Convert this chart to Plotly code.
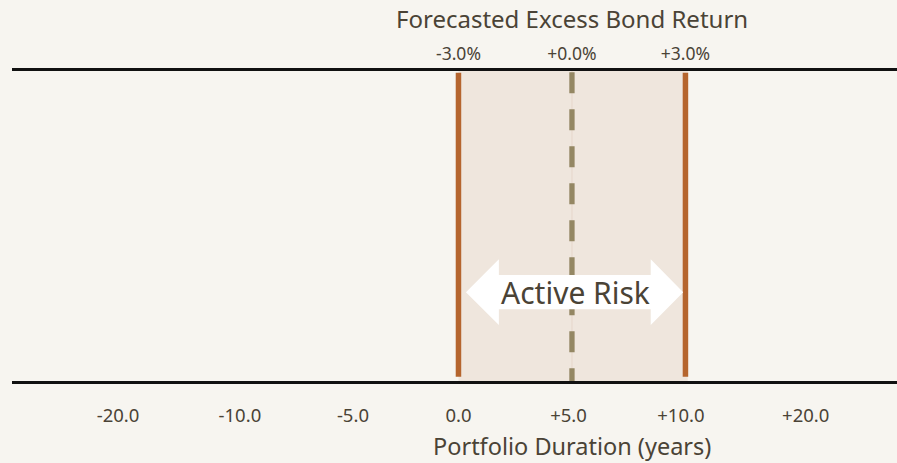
import plotly.graph_objects as go

# ---- data ----
duration_tick_values = [-20, -10, -5, 0, 5, 10, 20]
duration_tick_labels = ["-20.0", "-10.0", "-5.0", "0.0", "+5.0", "+10.0", "+20.0"]
return_tick_values = [-3.0, 0.0, 3.0]
return_tick_labels = ["-3.0%", "+0.0%", "+3.0%"]
band_durations = [0.0, 5.0, 10.0]      # durations matching -3%, 0%, +3%
band_label = "Active Risk"

# ---- layout helpers (axis is linear in duration between 0 and 10, compressed outside) ----
duration_tick_pos = [-15.0, -9.63, -4.65, 0.0, 4.85, 9.8, 15.3]
x_range = [-19.67, 19.32]

BG = "#F7F5F0"
BAND = "#EFE6DD"
ORANGE = "#B5652E"
OLIVE = "#948763"
TEXT = "#4A4336"
FONT = "Noto Sans"


def ret_to_dur(r):
    return band_durations[1] + r * (band_durations[2] - band_durations[1]) / return_tick_values[2]


fig = go.Figure()

lo, mid, hi = band_durations

# orange boundary lines
for xv in (lo, hi):
    fig.add_trace(go.Scatter(x=[xv, xv], y=[0.994, 0.014], mode="lines",
                             line=dict(color=ORANGE, width=5.5),
                             hoverinfo="skip", showlegend=False))
# dashed centre line
fig.add_trace(go.Scatter(x=[mid, mid], y=[0.996, 0.0], mode="lines",
                         line=dict(color=OLIVE, width=5.3, dash="21px,16px"),
                         hoverinfo="skip", showlegend=False))

# double-headed arrow (white), relative to band edges
yc, hh, bh = 0.2866, 0.106, 0.055
ax = [lo + 0.33, lo + 1.78, lo + 1.78, hi - 1.53, hi - 1.53, hi - 0.1,
      hi - 1.53, hi - 1.53, lo + 1.78, lo + 1.78, lo + 0.33]
ay = [yc, yc + hh, yc + bh, yc + bh, yc + hh, yc,
      yc - hh, yc - bh, yc - bh, yc - hh, yc]
fig.add_trace(go.Scatter(x=ax, y=ay, mode="lines", fill="toself",
                         fillcolor="#FFFFFF", line=dict(color="#FFFFFF", width=0),
                         hoverinfo="skip", showlegend=False))
# invisible trace to activate top axis
fig.add_trace(go.Scatter(x=[ret_to_dur(r) for r in return_tick_values], y=[0.5] * 3,
                         xaxis="x2", mode="markers", marker=dict(opacity=0),
                         hoverinfo="skip", showlegend=False))

# band shading
fig.add_shape(type="rect", x0=lo, x1=hi + 0.1, y0=0, y1=1, xref="x", yref="y",
              fillcolor=BAND, line=dict(width=0), layer="below")
fig.add_shape(type="line", x0=mid, x1=mid, y0=0, y1=1, xref="x", yref="y",
              line=dict(color="#E6D6CA", width=1), layer="below")

fig.add_annotation(x=mid, y=yc, xref="x", yref="y", text=band_label, showarrow=False,
                   font=dict(family=FONT, size=30, color=TEXT), xshift=4)

# axis titles
fig.add_annotation(x=mid, y=1, xref="x", yref="paper", yshift=53, text="Forecasted Excess Bond Return",
                   showarrow=False, font=dict(family=FONT, size=24, color=TEXT), yanchor="middle")
fig.add_annotation(x=mid, y=0, xref="x", yref="paper", yshift=-65, text="Portfolio Duration (years)",
                   showarrow=False, font=dict(family=FONT, size=23.5, color=TEXT), yanchor="middle")

fig.update_layout(
    width=897, height=463,
    margin=dict(l=12, r=0, t=71, b=82),
    paper_bgcolor=BG, plot_bgcolor=BG,
    showlegend=False,
    xaxis=dict(range=x_range, tickvals=duration_tick_pos, ticktext=duration_tick_labels,
               showline=True, linecolor="#111111", linewidth=2.7, showgrid=False, zeroline=False,
               ticks="", ticklabelstandoff=16,
               tickfont=dict(family=FONT, size=18.5, color=TEXT), fixedrange=True),
    xaxis2=dict(range=x_range, overlaying="x", side="top",
                tickvals=[ret_to_dur(r) for r in return_tick_values], ticktext=return_tick_labels,
                showline=True, linecolor="#111111", linewidth=2.7, showgrid=False, zeroline=False,
                ticks="", ticklabelstandoff=1,
                tickfont=dict(family=FONT, size=17.5, color=TEXT), fixedrange=True),
    yaxis=dict(range=[0, 1], visible=False, fixedrange=True),
)

fig.write_html("out.html", config={"displayModeBar": False},
               post_script="document.body.style.margin='0';document.body.style.padding='0';")
